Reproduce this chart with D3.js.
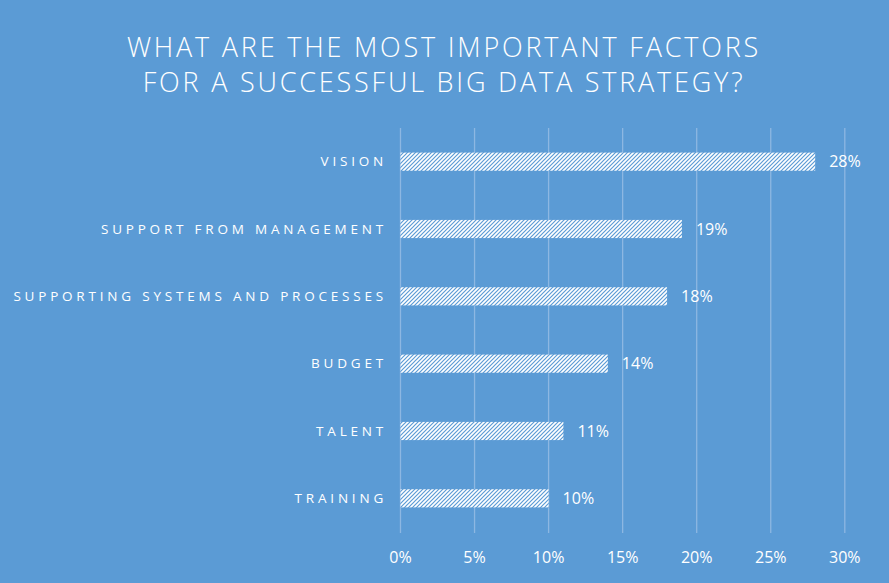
<!DOCTYPE html>
<html><head><meta charset="utf-8">
<script src="https://cdn.jsdelivr.net/npm/d3@7"></script>
<style>html,body{margin:0;padding:0;background:#5B9BD5;}</style>
</head><body>
<svg id="c" width="889" height="583"></svg>
<script>
const categories = ["VISION","SUPPORT FROM MANAGEMENT","SUPPORTING SYSTEMS AND PROCESSES","BUDGET","TALENT","TRAINING"];
const values = [28,19,18,14,11,10];
const ticks = [0,5,10,15,20,25,30];
const titleLines = ["WHAT ARE THE MOST IMPORTANT FACTORS","FOR A SUCCESSFUL BIG DATA STRATEGY?"];

const svg = d3.select("#c");
svg.append("rect").attr("width",889).attr("height",583).attr("fill","#5B9BD5");

const defs = svg.append("defs");
const pat = defs.append("pattern").attr("id","hatch").attr("patternUnits","userSpaceOnUse")
  .attr("width",4).attr("height",4);
pat.append("rect").attr("width",4).attr("height",4).attr("fill","#ffffff");
pat.append("path").attr("d","M-1,1 l2,-2 M0,4 l4,-4 M3,5 l2,-2")
  .attr("stroke","#5B9BD5").attr("stroke-width",1.2);

const x = d3.scaleLinear().domain([0,30]).range([400.5,844.8]);
const y = d3.scaleBand().domain(categories).range([128,532]).paddingInner(0.73).paddingOuter(0.365);

// gridlines
svg.append("g").selectAll("line").data(ticks).join("line")
  .attr("x1",d=>x(d)).attr("x2",d=>x(d)).attr("y1",128).attr("y2",533)
  .attr("stroke","#8DB7E2").attr("stroke-width",1.3);

// axis labels
svg.append("g").selectAll("text").data(ticks).join("text")
  .attr("x",d=>x(d)).attr("y",563).attr("text-anchor","middle")
  .attr("fill","#fff").attr("font-family","Open Sans, sans-serif").attr("font-size",16)
  .text(d=>d+"%");

// bars
svg.append("g").selectAll("rect").data(categories).join("rect")
  .attr("x",x(0)).attr("y",d=>y(d)).attr("height",y.bandwidth())
  .attr("width",(d,i)=>x(values[i])-x(0)).attr("fill","url(#hatch)");

// category labels
svg.append("g").selectAll("text").data(categories).join("text")
  .attr("x",387).attr("y",d=>y(d)+y.bandwidth()/2).attr("dy","0.35em")
  .attr("text-anchor","end").attr("fill","#fff")
  .attr("font-family","Open Sans, sans-serif").attr("font-size",13.5).attr("letter-spacing","3.8px")
  .text(d=>d);

// value labels
svg.append("g").selectAll("text").data(categories).join("text")
  .attr("x",(d,i)=>x(values[i])+14).attr("y",d=>y(d)+y.bandwidth()/2).attr("dy","0.35em")
  .attr("fill","#fff").attr("font-family","Open Sans, sans-serif").attr("font-size",16)
  .text((d,i)=>values[i]+"%");

// title
svg.append("g").selectAll("text").data(titleLines).join("text")
  .attr("x",444).attr("y",(d,i)=>57+i*35).attr("text-anchor","middle")
  .attr("fill","#fff").attr("font-family","Open Sans, sans-serif").attr("font-size",27)
  .attr("font-weight",300).attr("letter-spacing","2.8px")
  .text(d=>d);
</script>
</body></html>
